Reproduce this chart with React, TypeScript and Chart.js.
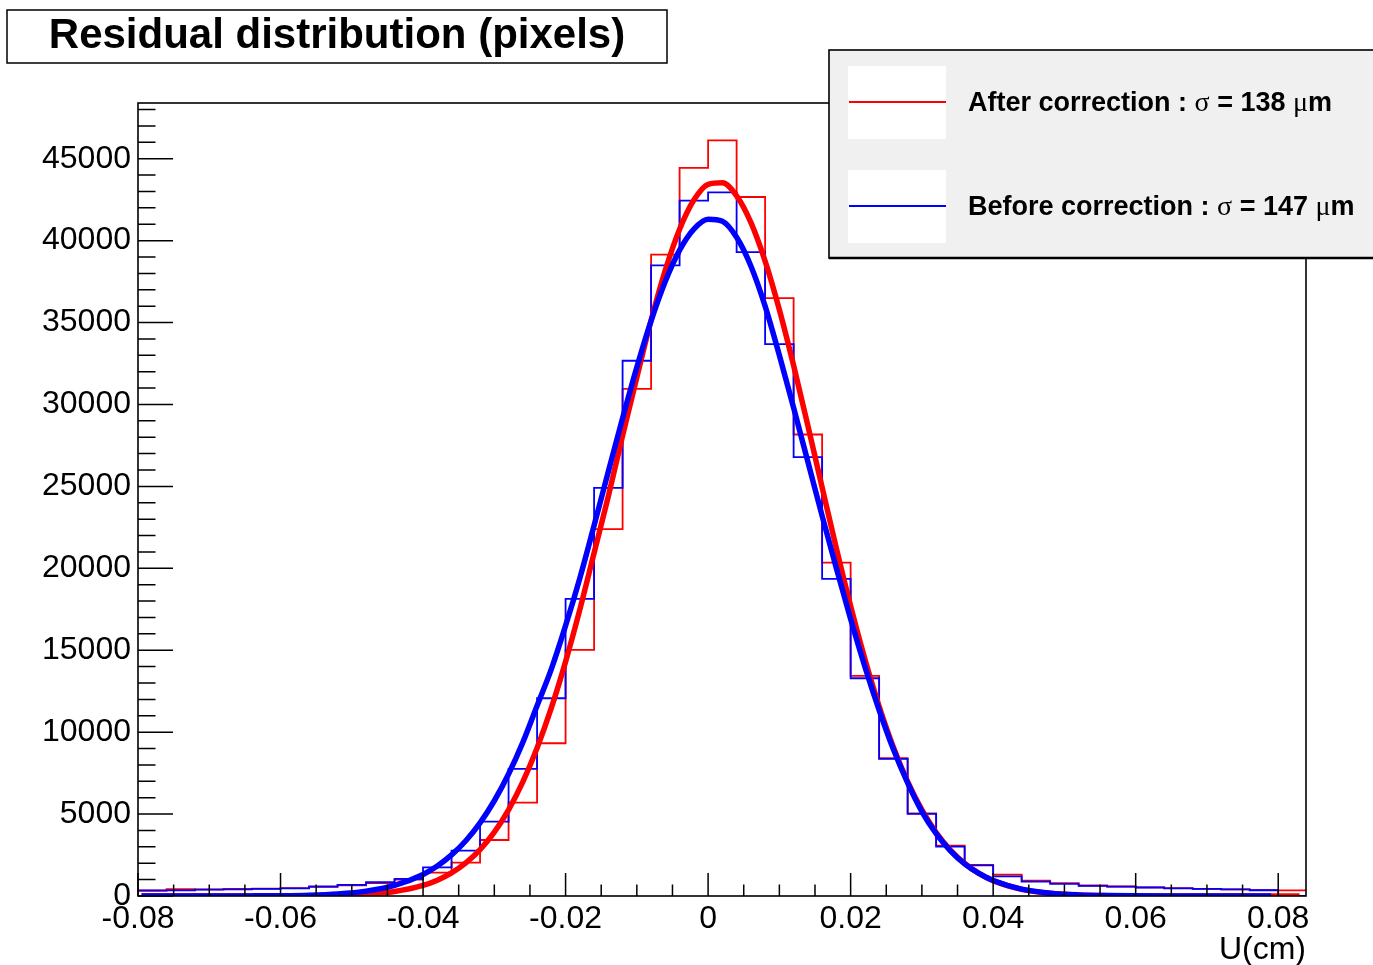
import React, { useEffect, useRef } from "react";
import { Chart, registerables } from "chart.js";

Chart.register(...registerables);

// ---------- data ----------
const binStart = -0.08;
const binWidth = 0.004;

const redHist = [
  320, 420, 400, 440, 450, 480, 560, 650, 790, 1000,
  1425, 2035, 3419, 5699, 9322, 15021, 22390, 30957, 39140, 44435,
  46119, 42663, 36495, 28168, 20352, 13433, 8406, 5048, 3073, 1893,
  1300, 930, 780, 640, 580, 530, 480, 440, 410, 360, 340,
];

const blueHist = [
  340, 340, 390, 400, 430, 470, 580, 680, 840, 1050,
  1750, 2768, 4539, 7755, 12070, 18135, 24912, 32667, 38487, 42437,
  42944, 39304, 33686, 26786, 19356, 13291, 8365, 5007, 3013, 1870,
  1200, 875, 740, 620, 570, 520, 470, 430, 400, 350, 0,
];

const fitX = [
  -0.0795, -0.076, -0.072, -0.068, -0.064, -0.06, -0.056, -0.052, -0.048, -0.044,
  -0.04, -0.038, -0.036, -0.034, -0.032, -0.03, -0.028, -0.026, -0.024, -0.022,
  -0.02, -0.018, -0.016, -0.014, -0.012, -0.01, -0.008, -0.006, -0.004, -0.002,
  0,
  0.002, 0.004, 0.006, 0.008, 0.01, 0.012, 0.014, 0.016, 0.018, 0.02,
  0.022, 0.024, 0.026, 0.028, 0.03, 0.032, 0.034, 0.036, 0.038, 0.04,
  0.044, 0.048, 0.052, 0.056, 0.06, 0.064, 0.068, 0.072, 0.076, 0.079,
];

const redFit = [
  0, 0, 0, 0, 1, 4, 13, 39, 108, 275,
  648, 965, 1410, 2019, 2835, 3900, 5263, 6963, 9030, 11476,
  14305, 17479, 20937, 24400, 28100, 31660, 35132, 38199, 40694, 42476,
  43440,
  43529, 42737, 41111, 38749, 35784, 32379, 28706, 24935, 21222, 17698,
  14460, 11577, 9080, 6979, 5256, 3877, 2803, 1985, 1378, 937,
  408, 163, 60, 21, 6, 2, 0, 0, 0, 0,
];
const redFitEnd = 0.083;

const blueFit = [
  0, 0, 0, 2, 7, 19, 51, 128, 297, 646,
  1317, 1832, 2507, 3374, 4466, 5814, 7447, 9378, 11615, 13850,
  16500, 19401, 22612, 25905, 29166, 32275, 35102, 37522, 39420, 40703,
  41306,
  41180, 40200, 38450, 36000, 33000, 29800, 26500, 23200, 20000, 16900,
  14000, 11350, 8950, 6900, 5150, 3800, 2760, 1965, 1377, 947,
  422, 174, 66, 23, 8, 2, 0, 0, 0, 0,
];

const xMin = -0.08;
const xMax = 0.0839;
const yMin = 0;
const yMax = 48400;

const xTicks = [-0.08, -0.06, -0.04, -0.02, 0, 0.02, 0.04, 0.06, 0.08];
const xTickLabels = ["-0.08", "-0.06", "-0.04", "-0.02", "0", "0.02", "0.04", "0.06", "0.08"];
const xMinorStep = 0.005;
const xMinorPerMajor = 4;

const yTicks = [0, 5000, 10000, 15000, 20000, 25000, 30000, 35000, 40000, 45000];
const yTickLabels = ["0", "5000", "10000", "15000", "20000", "25000", "30000", "35000", "40000", "45000"];
const yMinorStep = 1000;
const yMinorPerMajor = 5;

const titleText = "Residual distribution (pixels)";
const xAxisTitle = "U(cm)";

const legendEntries = [
  { color: "#ff0000", parts: [["After correction : ", "b"], ["\u03c3", "s"], [" = 138 ", "b"], ["\u03bc", "s"], ["m", "b"]] },
  { color: "#0000ff", parts: [["Before correction : ", "b"], ["\u03c3", "s"], [" = 147 ", "b"], ["\u03bc", "s"], ["m", "b"]] },
];

const RED = "#ff0000";
const BLUE = "#0000ff";
const FONT = "'Liberation Sans', Arial, Helvetica, sans-serif";
const SERIF = "'Liberation Serif', 'DejaVu Serif', serif";

function histPoints(vals: number[]) {
  const pts = vals.map((v, i) => ({ x: binStart + i * binWidth, y: v }));
  pts.push({ x: binStart + vals.length * binWidth, y: vals[vals.length - 1] });
  return pts;
}

const decorPlugin = {
  id: "decor",
  afterDraw(chart: any) {
    const { ctx, chartArea: a, scales } = chart;
    const xs = scales.x;
    const ys = scales.y;
    ctx.save();
    ctx.strokeStyle = "#000";
    ctx.lineWidth = 1.5;
    ctx.beginPath();
    // y ticks (inside)
    const yMajorLen = 35;
    for (let k = 0; k * yMinorStep <= yMax; k++) {
      const v = k * yMinorStep;
      const py = ys.getPixelForValue(v);
      const len = k % yMinorPerMajor === 0 ? yMajorLen : yMajorLen / 2;
      ctx.moveTo(a.left, py);
      ctx.lineTo(a.left + len, py);
    }
    // x ticks (inside)
    const xMajorLen = 23;
    const kStart = Math.ceil(xMin / xMinorStep - 1e-9);
    const kEnd = Math.floor(xMax / xMinorStep + 1e-9);
    for (let k = kStart; k <= kEnd; k++) {
      const v = k * xMinorStep;
      const px = xs.getPixelForValue(v);
      const len = ((k % xMinorPerMajor) + xMinorPerMajor) % xMinorPerMajor === 0 ? xMajorLen : xMajorLen / 2;
      ctx.moveTo(px, a.bottom);
      ctx.lineTo(px, a.bottom - len);
    }
    ctx.stroke();
    // frame
    ctx.lineWidth = 1.6;
    ctx.strokeRect(a.left, a.top, a.right - a.left, a.bottom - a.top);

    // title box
    ctx.fillStyle = "#ffffff";
    ctx.fillRect(7, 10, 660, 53);
    ctx.lineWidth = 1.5;
    ctx.strokeStyle = "#000";
    ctx.strokeRect(7, 10, 660, 53);
    ctx.fillStyle = "#000";
    ctx.font = `bold 42px ${FONT}`;
    ctx.textAlign = "center";
    ctx.textBaseline = "alphabetic";
    ctx.fillText(titleText, 337, 48);

    // legend box
    ctx.fillStyle = "#f0f0f0";
    ctx.fillRect(829, 50, 560, 208);
    ctx.strokeStyle = "#000";
    ctx.lineWidth = 1.6;
    ctx.strokeRect(829, 50, 560, 208);
    ctx.lineWidth = 2.5;
    ctx.beginPath();
    ctx.moveTo(829, 258);
    ctx.lineTo(1373, 258);
    ctx.stroke();
    legendEntries.forEach((e, i) => {
      const boxY = 66 + i * 104;
      ctx.fillStyle = "#ffffff";
      ctx.fillRect(848, boxY, 98, 73);
      ctx.strokeStyle = e.color;
      ctx.lineWidth = 2;
      ctx.beginPath();
      ctx.moveTo(849, boxY + 36);
      ctx.lineTo(946, boxY + 36);
      ctx.stroke();
      let tx = 968;
      const ty = boxY + 44.5;
      ctx.fillStyle = "#000";
      ctx.textAlign = "left";
      ctx.textBaseline = "alphabetic";
      e.parts.forEach(([txt, kind]) => {
        ctx.font = kind === "b" ? `bold 27px ${FONT}` : `28px ${SERIF}`;
        ctx.fillText(txt, tx, ty);
        tx += ctx.measureText(txt).width;
      });
    });
    ctx.restore();
  },
};

export default function App() {
  const ref = useRef<HTMLCanvasElement | null>(null);
  useEffect(() => {
    if (!ref.current) return;
    const chart = new Chart(ref.current, {
      type: "line",
      data: {
        datasets: [
          {
            label: "blue fit",
            data: fitX.map((x, i) => ({ x, y: blueFit[i] })),
            borderColor: BLUE,
            borderWidth: 5.5,
            pointRadius: 0,
            fill: false,
            cubicInterpolationMode: "monotone",
          },
          {
            label: "red fit",
            data: [...fitX.map((x, i) => ({ x, y: redFit[i] })), { x: redFitEnd, y: 0 }],
            borderColor: RED,
            borderWidth: 5.5,
            pointRadius: 0,
            fill: false,
            cubicInterpolationMode: "monotone",
          },
          {
            label: "Before correction",
            data: histPoints(blueHist),
            borderColor: BLUE,
            borderWidth: 1.8,
            pointRadius: 0,
            fill: false,
            stepped: "before",
          },
          {
            label: "After correction",
            data: histPoints(redHist),
            borderColor: RED,
            borderWidth: 1.8,
            pointRadius: 0,
            fill: false,
            stepped: "before",
          },
        ],
      } as any,
      options: {
        animation: false,
        responsive: false,
        events: [],
        layout: { padding: { top: 103, right: 67, left: 0, bottom: 0 } },
        plugins: {
          legend: { display: false },
          tooltip: { enabled: false },
          title: { display: false },
        },
        scales: {
          x: {
            type: "linear",
            min: xMin,
            max: xMax,
            grid: { display: false, drawTicks: false },
            border: { display: false },
            afterBuildTicks: (s: any) => {
              s.ticks = xTicks.map((v) => ({ value: v }));
            },
            afterFit: (s: any) => {
              s.height = 69;
            },
            ticks: {
              autoSkip: false,
              maxRotation: 0,
              padding: 4,
              color: "#000",
              font: { size: 32, family: FONT },
              callback: (_v: any, i: number) => xTickLabels[i],
            },
            title: {
              display: true,
              text: xAxisTitle,
              align: "end",
              color: "#000",
              font: { size: 32, family: FONT },
              padding: { top: 0, bottom: -4 },
            },
          },
          y: {
            type: "linear",
            min: yMin,
            max: yMax,
            grid: { display: false, drawTicks: false },
            border: { display: false },
            afterBuildTicks: (s: any) => {
              s.ticks = yTicks.map((v) => ({ value: v }));
            },
            afterFit: (s: any) => {
              s.width = 138;
            },
            ticks: {
              autoSkip: false,
              padding: 7,
              color: "#000",
              font: { size: 32, family: FONT },
              callback: (_v: any, i: number) => yTickLabels[i],
            },
          },
        },
      } as any,
      plugins: [decorPlugin],
    });
    return () => chart.destroy();
  }, []);

  return (
    <div style={{ position: "absolute", left: 0, top: 0, width: 1373, height: 965, background: "#fff" }}>
      <canvas ref={ref} width={1373} height={965} style={{ display: "block" }} />
    </div>
  );
}
